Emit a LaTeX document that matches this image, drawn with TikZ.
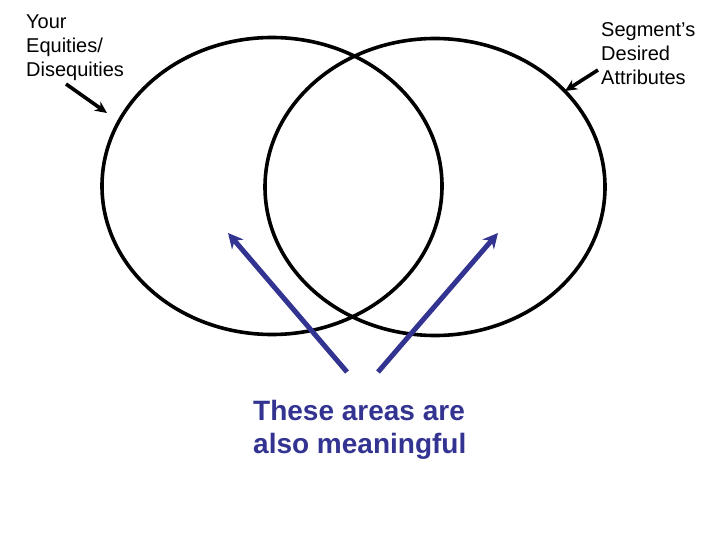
\documentclass[tikz,border=0pt]{standalone}
\usepackage{fontspec}
\setmainfont{Liberation Sans}
\usetikzlibrary{shapes.geometric,arrows.meta}
\definecolor{navy}{RGB}{51,51,145}
\begin{document}
\begin{tikzpicture}[x=1pt,y=-1pt,
  ring/.style={ellipse,draw=black,line width=3.6pt,minimum width=340pt,minimum height=297pt,inner sep=0pt},
  lbl/.style={align=left,inner sep=0pt,font=\fontsize{20}{24}\selectfont},
  blk/.style={line width=3.6pt,-{Stealth[length=12pt,width=11pt]}},
  blu/.style={draw=navy,line width=5pt,-{Stealth[length=15pt,width=15pt]}}]
\useasboundingbox (0,0) rectangle (720,540);
\node[ring] (L) at (272,186) {};
\node[ring] (R) at (435,187) {};
\node[lbl,anchor=north west] (you) at (26,15) {Your\\Equities/\\Disequities};
\node[lbl,anchor=north west] (seg) at (601,22) {Segment’s\\Desired\\Attributes};
\coordinate (a1s) at (66,84);
\coordinate (a1e) at (107,113);
\coordinate (a2s) at (598,70);
\coordinate (a2e) at (565,91);
\draw[blk] (a1s) -- (a1e);
\draw[blk] (a2s) -- (a2e);
\coordinate (b1s) at (347,372);
\coordinate (b1e) at (228,233);
\coordinate (b2s) at (378,372);
\coordinate (b2e) at (498,233);
\draw[blu] (b1s) -- (b1e);
\draw[blu] (b2s) -- (b2e);
\node[align=left,inner sep=0pt,anchor=north west,text=navy,font=\fontsize{28}{33}\bfseries\selectfont] (txt) at (253,400) {These areas are\\also meaningful};
\end{tikzpicture}
\end{document}
